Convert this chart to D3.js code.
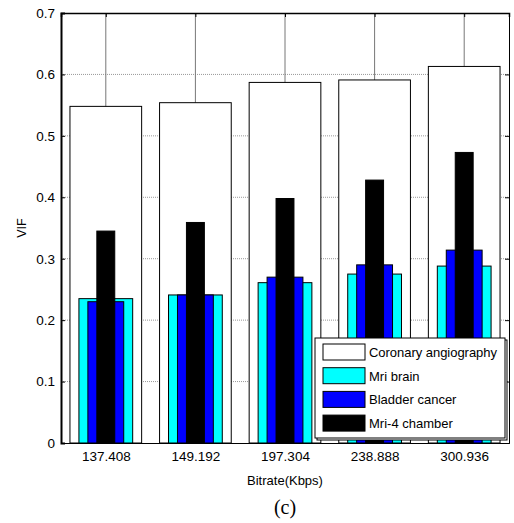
<!DOCTYPE html>
<html>
<head>
<meta charset="utf-8">
<script src="https://cdn.jsdelivr.net/npm/d3@7"></script>
<style>
  body { margin: 0; background: #fff; }
  svg text { font-family: "Liberation Sans", Arial, sans-serif; }
</style>
</head>
<body>
<div id="chart"></div>
<script>
// bitrate categories (x tick labels)
const bitrates = ["137.408", "149.192", "197.304", "238.888", "300.936"]
// VIF per image, drawn widest to narrowest
const coronary = [0.548, 0.554, 0.587, 0.591, 0.613]
const mriBrain = [0.235, 0.241, 0.261, 0.275, 0.288]
const bladder = [0.230, 0.241, 0.270, 0.290, 0.314]
const mri4 = [0.345, 0.359, 0.398, 0.428, 0.473]
const seriesNames = ["Coronary angiography", "Mri brain", "Bladder cancer", "Mri-4 chamber"]
const yTicks = [0, 0.1, 0.2, 0.3, 0.4, 0.5, 0.6, 0.7]

function drawChart(id) {
    const margin = { top: 13, right: 5, bottom: 80, left: 61 };
    const width = 514 - margin.left - margin.right;
    const height = 523 - margin.top - margin.bottom;

    const svg = d3.select(id)
        .append("svg")
        .attr("width", 514)
        .attr("height", 523)
        .append("g")
        .attr("transform", `translate(${margin.left},${margin.top})`);

    // categories sit at 1..5 like matlab bar()
    const x = d3.scaleLinear().domain([0.5, bitrates.length + 0.5]).range([0, width]);
    const y = d3.scaleLinear().domain([0, 0.7]).range([height, 0]);
    const step = x(2) - x(1);

    // grid lines behind the bars
    svg.append("g")
        .selectAll("line")
        .data(yTicks.slice(1, -1))
        .join("line")
        .attr("x1", 0).attr("x2", width)
        .attr("y1", d => y(d)).attr("y2", d => y(d))
        .attr("stroke", "#999").attr("stroke-dasharray", "1,1");
    svg.append("g")
        .selectAll("line")
        .data(bitrates)
        .join("line")
        .attr("x1", (d, i) => x(i + 1)).attr("x2", (d, i) => x(i + 1))
        .attr("y1", 0).attr("y2", height)
        .attr("stroke", "#777");

    const series = [
        { name: seriesNames[0], values: coronary, color: "#ffffff", frac: 0.8 },
        { name: seriesNames[1], values: mriBrain, color: "#00ffff", frac: 0.6 },
        { name: seriesNames[2], values: bladder, color: "#0000ff", frac: 0.4 },
        { name: seriesNames[3], values: mri4, color: "#000000", frac: 0.2 }
    ];

    series.forEach(s => {
        const w = step * s.frac;
        svg.append("g")
            .selectAll("rect")
            .data(s.values)
            .join("rect")
            .attr("x", (d, i) => x(i + 1) - w / 2)
            .attr("width", w)
            .attr("y", d => y(d))
            .attr("height", d => height - y(d))
            .attr("fill", s.color)
            .attr("stroke", "#000")
            .attr("stroke-width", 1);
    });

    // axes, matlab style box with ticks inside
    const left = svg.append("g")
        .call(d3.axisLeft(y).tickValues(yTicks).tickSize(-4).tickPadding(6).tickFormat(d => d === 0 ? "0" : d3.format(".1f")(d)));
    left.select(".domain").attr("stroke-width", 2);
    svg.append("g")
        .attr("transform", `translate(${width},0)`)
        .call(d3.axisRight(y).tickValues(yTicks).tickSize(-4).tickFormat(""));
    svg.append("g")
        .attr("transform", `translate(0,${height})`)
        .call(d3.axisBottom(x).tickValues(d3.range(1, bitrates.length + 1)).tickSize(-4).tickPadding(8).tickFormat(d => bitrates[d - 1]));
    svg.append("g")
        .call(d3.axisTop(x).tickValues(d3.range(1, bitrates.length + 1)).tickSize(-4).tickFormat(""))
        .select(".domain").attr("stroke-width", 1.5);

    svg.selectAll(".tick text").attr("font-size", 13.5).attr("fill", "#000");

    // axis labels
    svg.append("text")
        .attr("transform", `translate(-35,${height / 2}) rotate(-90)`)
        .attr("text-anchor", "middle")
        .attr("font-size", 12.5)
        .text("VIF");
    svg.append("text")
        .attr("x", x(3)).attr("y", height + 42)
        .attr("text-anchor", "middle")
        .attr("font-size", 13)
        .text("Bitrate(Kbps)");
    svg.append("text")
        .attr("x", x(3)).attr("y", height + 71)
        .attr("text-anchor", "middle")
        .attr("font-size", 20)
        .style("font-family", "'Liberation Serif', 'Times New Roman', serif")
        .text("(c)");

    // legend in lower right
    const lg = svg.append("g").attr("transform", `translate(${254},${325})`);
    lg.append("rect").attr("x", 2).attr("y", 2).attr("width", 190).attr("height", 100)
        .attr("fill", "#fff").attr("stroke", "#000");
    lg.append("rect").attr("width", 190).attr("height", 100)
        .attr("fill", "#fff").attr("stroke", "#000");
    series.forEach((s, i) => {
        const yy = 14 + i * 23.7;
        lg.append("rect")
            .attr("x", 8).attr("y", yy - 8).attr("width", 42).attr("height", 16)
            .attr("fill", s.color).attr("stroke", "#000");
        lg.append("text")
            .attr("x", 54).attr("y", yy + 5)
            .attr("font-size", 13)
            .attr("textLength", s.name === seriesNames[0] ? 128 : null)
            .text(s.name);
    });
}

drawChart("#chart")
</script>
</body>
</html>
